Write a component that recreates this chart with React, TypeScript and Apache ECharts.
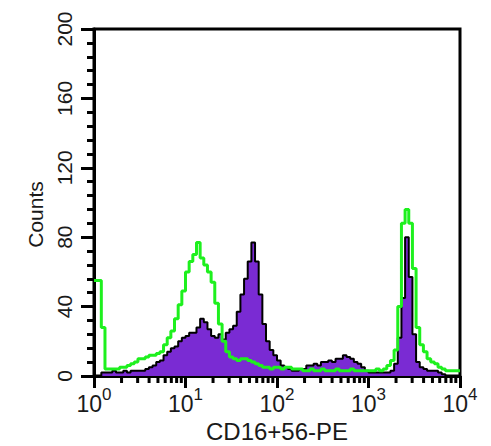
import { useEffect, useRef } from 'react';
import * as echarts from 'echarts';

// Each histogram has 100 channels spread evenly over four decades (0.04 decade per channel).
const DECADES_PER_CHANNEL = 0.04;

// CD16+56-PE stained sample (purple, filled)
const stainedCounts = [
  0, 0, 2, 2, 2, 3, 2, 2, 3, 2,
  3, 3, 3, 3, 4, 5, 6, 8, 9, 12,
  14, 16, 17, 20, 22, 23, 25, 25, 28, 33,
  31, 27, 23, 22, 24, 21, 25, 27, 29, 37,
  47, 56, 66, 77, 66, 47, 30, 20, 15, 12,
  9, 6, 5, 4, 3, 3, 4, 4, 6, 6,
  7, 6, 8, 8, 9, 8, 10, 10, 12, 11,
  10, 8, 7, 5, 3, 2, 2, 2, 2, 2,
  2, 3, 7, 22, 45, 80, 57, 24, 8, 5,
  4, 3, 3, 3, 2, 1, 0, 0, 0, 0,
];

// Comparison sample (green outline)
const controlCounts = [
  55, 55, 28, 4, 4, 4, 4, 5, 5, 6,
  7, 8, 10, 10, 11, 12, 12, 13, 14, 18,
  22, 26, 33, 41, 49, 60, 66, 70, 77, 68,
  64, 60, 54, 42, 30, 20, 14, 11, 10, 9,
  10, 10, 9, 8, 7, 6, 5, 5, 4, 5,
  5, 4, 5, 5, 4, 4, 4, 3, 3, 4,
  3, 3, 4, 3, 3, 3, 4, 3, 3, 3,
  4, 3, 3, 3, 3, 3, 3, 4, 3, 4,
  6, 9, 15, 40, 88, 96, 88, 62, 28, 18,
  14, 10, 8, 7, 5, 4, 3, 3, 3, 3,
];

const xMin = 1;
const xMax = 10000;
const yMin = 0;
const yMax = 200;
const yStep = 40;

// minor ticks at 2..9 x 10^n
const minorDecadeMultipliers = [2, 3, 4, 5, 6, 7, 8, 9];
const decadeStarts = [1, 10, 100, 1000];

const FONT = '"Liberation Sans", Arial, Helvetica, sans-serif';
const TEXT = '#1a1a1a';

function channelSteps(counts: number[]) {
  const pts: number[][] = counts.map((c, i) => [Math.pow(10, i * DECADES_PER_CHANNEL), c]);
  pts.push([Math.pow(10, counts.length * DECADES_PER_CHANNEL), counts[counts.length - 1]]);
  return pts;
}

export default function App() {
  const ref = useRef<HTMLDivElement>(null);

  useEffect(() => {
    if (!ref.current) return;
    const chart = echarts.init(ref.current, undefined, { renderer: 'svg' });

    const minorTicks: number[][] = [];
    decadeStarts.forEach((d) => minorDecadeMultipliers.forEach((m) => minorTicks.push([d * m, 0])));

    chart.setOption({
      animation: false,
      backgroundColor: '#ffffff',
      grid: {
        left: 94,
        right: 31,
        top: 29,
        bottom: 70,
        show: true,
        borderColor: '#000',
        borderWidth: 3,
        backgroundColor: 'transparent',
        containLabel: false,
        outerBoundsMode: 'none',
      },
      xAxis: {
        type: 'log',
        logBase: 10,
        min: xMin,
        max: xMax,
        name: 'CD16+56-PE',
        nameLocation: 'middle',
        nameGap: 45,
        nameMoveOverlap: false,
        nameTextStyle: { fontFamily: FONT, fontSize: 24, lineHeight: 20, color: TEXT },
        axisLine: { lineStyle: { color: '#000', width: 3 } },
        axisTick: { length: 12, lineStyle: { color: '#000', width: 3 } },
        splitLine: { show: false },
        axisLabel: {
          margin: 19,
          fontFamily: FONT,
          color: TEXT,
          formatter: (v: number) => `{b|10}{s|${Math.round(Math.log10(v))}}`,
          rich: {
            b: { fontFamily: FONT, fontSize: 23, lineHeight: 20, verticalAlign: 'bottom', color: TEXT },
            s: {
              fontFamily: FONT,
              fontSize: 17,
              lineHeight: 14,
              verticalAlign: 'bottom',
              padding: [0, 0, 12, 0],
              color: TEXT,
            },
          },
        },
      },
      yAxis: {
        type: 'value',
        min: yMin,
        max: yMax,
        interval: yStep,
        name: 'Counts',
        nameLocation: 'middle',
        nameGap: 47,
        nameRotate: 90,
        nameTextStyle: { fontFamily: FONT, fontSize: 21, color: TEXT, padding: [0, 24, 0, 0] },
        axisLine: { show: true, lineStyle: { color: '#000', width: 3 } },
        axisTick: { show: true, length: 13, lineStyle: { color: '#000', width: 3 } },
        minorTick: { show: true, splitNumber: 5, length: 7, lineStyle: { color: '#000', width: 3 } },
        splitLine: { show: false },
        minorSplitLine: { show: false },
        axisLabel: { rotate: 90, margin: 19, fontFamily: FONT, fontSize: 21, color: TEXT },
      },
      series: [
        {
          name: 'stained',
          type: 'line',
          step: 'end',
          showSymbol: false,
          symbol: 'none',
          data: channelSteps(stainedCounts),
          lineStyle: { color: '#000', width: 2 },
          areaStyle: { color: '#7A2BD3', opacity: 1 },
          z: 2,
        },
        {
          name: 'control',
          type: 'line',
          step: 'end',
          showSymbol: false,
          symbol: 'none',
          data: channelSteps(controlCounts),
          lineStyle: { color: '#1EF01E', width: 3 },
          z: 3,
        },
        {
          name: 'minor ticks',
          type: 'custom',
          silent: true,
          z: 5,
          data: minorTicks,
          renderItem: (_params: any, api: any) => {
            const p = api.coord([api.value(0), 0]);
            return {
              type: 'line',
              shape: { x1: p[0], y1: p[1], x2: p[0], y2: p[1] + 7 },
              style: { stroke: '#000', lineWidth: 3 },
            };
          },
        },
      ],
    });

    return () => chart.dispose();
  }, []);

  return (
    <div
      ref={ref}
      style={{ position: 'absolute', left: 0, top: 0, width: 491, height: 446, background: '#fff' }}
    />
  );
}
